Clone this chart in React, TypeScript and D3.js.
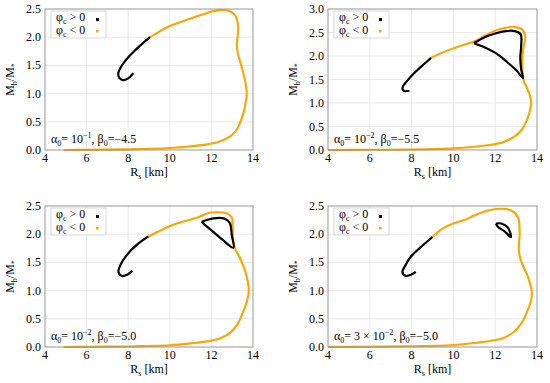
import React from "react";
import * as d3 from "d3";

type P = [number, number];

// Tick values
const xTicks = [4, 6, 8, 10, 12, 14];
const yTicks25 = [0, 0.5, 1.0, 1.5, 2.0, 2.5];
const yTicks30 = [0, 0.5, 1.0, 1.5, 2.0, 2.5, 3.0];

// Panel 1: alpha0 = 1e-1, beta0 = -4.5
const p1Orange: P[] = [[4.9,0.0],[6.0,0.003],[8.0,0.011],[9.0,0.02],[10.0,0.035],[11.0,0.065],[11.8,0.1],[12.4,0.15],[12.9,0.24],[13.2,0.35],[13.45,0.55],[13.62,0.78],[13.7,1.0],[13.62,1.22],[13.45,1.48],[13.28,1.7],[13.22,1.85],[13.27,2.05],[13.28,2.22],[13.15,2.38],[12.9,2.46],[12.4,2.48],[11.8,2.43],[11.0,2.33],[10.0,2.2],[9.5,2.1],[9.05,2.0]];
const p1Black: P[] = [[9.05,2.0],[8.6,1.86],[8.2,1.72],[7.9,1.6],[7.65,1.47],[7.52,1.35],[7.57,1.28],[7.75,1.24],[8.0,1.27],[8.25,1.36]];
const p1Loop: P[] = [];

// Panel 2: alpha0 = 1e-2, beta0 = -5.5
const p2Orange: P[] = [[4,0],[6,0.004],[8,0.012],[9,0.02],[10,0.035],[11,0.07],[11.8,0.11],[12.4,0.17],[12.9,0.28],[13.25,0.42],[13.5,0.62],[13.65,0.82],[13.72,1.0],[13.66,1.16],[13.52,1.32],[13.36,1.47],[13.3,1.7],[13.3,1.95],[13.36,2.2],[13.44,2.4],[13.3,2.56],[12.9,2.62],[12.5,2.6],[12.0,2.54],[11.5,2.43],[11.1,2.33],[10.8,2.28],[10.3,2.21],[9.8,2.13],[9.3,2.04],[8.93,1.96]];
const p2Black: P[] = [[8.93,1.96],[8.6,1.83],[8.3,1.71],[8.0,1.58],[7.75,1.45],[7.58,1.35],[7.58,1.28],[7.7,1.25],[7.9,1.26]];
const p2Loop: P[] = [[10.98,2.27],[11.5,2.4],[12.0,2.48],[12.5,2.53],[12.95,2.53],[13.22,2.46],[13.24,2.2],[13.2,1.95],[13.25,1.7],[13.33,1.53],[13.0,1.7],[12.6,1.86],[12.1,2.04],[11.5,2.18],[10.98,2.27]];

// Panel 3: alpha0 = 1e-2, beta0 = -5.0
const p3Orange: P[] = [[4.9,0],[6,0.003],[8,0.01],[9,0.018],[10,0.032],[11,0.065],[11.8,0.1],[12.4,0.15],[12.9,0.25],[13.25,0.4],[13.5,0.6],[13.7,0.8],[13.8,1.0],[13.66,1.3],[13.4,1.56],[13.12,1.76],[13.04,1.93],[13.02,2.13],[12.97,2.3],[12.73,2.37],[12.25,2.39],[11.9,2.38],[11.3,2.29],[10.8,2.24],[10.33,2.19],[9.85,2.12],[8.97,1.96]];
const p3Black: P[] = [[8.97,1.96],[8.41,1.81],[7.93,1.63],[7.62,1.45],[7.53,1.33],[7.7,1.26],[7.95,1.28],[8.2,1.35]];
const p3Loop: P[] = [[11.53,2.22],[12.09,2.28],[12.6,2.28],[12.88,2.2],[12.98,1.98],[13.06,1.76],[12.57,1.89],[12.09,2.04],[11.7,2.16],[11.53,2.22]];

// Panel 4: alpha0 = 3e-2, beta0 = -5.0
const p4Orange: P[] = [[4,0],[6,0.004],[8,0.012],[9,0.02],[10,0.035],[11,0.07],[11.8,0.11],[12.4,0.16],[12.9,0.27],[13.25,0.42],[13.5,0.6],[13.68,0.78],[13.76,0.95],[13.57,1.24],[13.25,1.51],[13.13,1.71],[13.17,2.01],[13.09,2.3],[12.77,2.42],[12.29,2.45],[11.64,2.42],[11.0,2.33],[10.52,2.25],[9.99,2.19],[9.48,2.1],[9.0,1.95]];
const p4Black: P[] = [[9.0,1.95],[8.44,1.77],[7.96,1.6],[7.66,1.42],[7.56,1.33],[7.72,1.26],[7.96,1.28],[8.2,1.33]];
const p4Loop: P[] = [[12.04,2.19],[12.29,2.19],[12.6,2.12],[12.75,1.95],[12.45,2.05],[12.13,2.13],[12.04,2.19]];

const ORANGE = "#ffa500";
const FONT = "'Liberation Serif', 'Times New Roman', 'DejaVu Serif', serif";

interface PanelProps {
  x0: number; x1: number; y0: number; y1: number;
  ymax: number; yTicks: number[];
  orange: P[]; black: P[]; loop: P[];
  ann: React.ReactNode;
}

function Panel({ x0, x1, y0, y1, ymax, yTicks, orange, black, loop, ann }: PanelProps) {
  const x = d3.scaleLinear().domain([4, 14]).range([x0, x1]);
  const y = d3.scaleLinear().domain([0, ymax]).range([y1, y0]);
  const line = d3.line<P>().x(d => x(d[0])).y(d => y(d[1])).curve(d3.curveCatmullRom.alpha(0.5));
  const cy = (y0 + y1) / 2;
  const cx = (x0 + x1) / 2;
  return (
    <g>
      <defs>
        <clipPath id={`clip${x0}_${y0}`}>
          <rect x={x0} y={y0 - 2} width={x1 - x0} height={y1 - y0 + 4} />
        </clipPath>
      </defs>
      {xTicks.slice(1, -1).map(t => (
        <line key={"gx" + t} x1={x(t)} x2={x(t)} y1={y0} y2={y1} stroke="#e3e3e3" strokeWidth={0.8} />
      ))}
      {yTicks.slice(1, -1).map(t => (
        <line key={"gy" + t} x1={x0} x2={x1} y1={y(t)} y2={y(t)} stroke="#e3e3e3" strokeWidth={0.8} />
      ))}
      <g clipPath={`url(#clip${x0}_${y0})`}>
        <path d={line(orange) || ""} fill="none" stroke={ORANGE} strokeWidth={2.1} />
        <path d={line(black) || ""} fill="none" stroke="#000" strokeWidth={2.2} />
        {loop.length > 0 && <path d={line(loop) || ""} fill="none" stroke="#000" strokeWidth={2.2} />}
      </g>
      <rect x={x0} y={y0} width={x1 - x0} height={y1 - y0} fill="none" stroke="#8c8c8c" strokeWidth={0.9} />
      {xTicks.map(t => (
        <text key={"tx" + t} x={x(t)} y={y1 + 12} fontSize={12} textAnchor="middle" fontFamily={FONT}>{t}</text>
      ))}
      {yTicks.map(t => (
        <text key={"ty" + t} x={x0 - 4} y={y(t) + 4} fontSize={12} textAnchor="end" fontFamily={FONT}>{t.toFixed(1)}</text>
      ))}
      <text x={cx} y={y1 + 26} fontSize={12} textAnchor="middle" fontFamily={FONT}>
        R<tspan fontSize={8} dy={3}>s</tspan><tspan dy={-3}> [km]</tspan>
      </text>
      <text transform={`translate(${x0 - 31},${cy}) rotate(-90)`} fontSize={12} textAnchor="middle" fontFamily={FONT}>
        M<tspan fontSize={8} dy={3}>b</tspan><tspan dy={-3}>/M</tspan><tspan fontSize={8} dy={3}>*</tspan>
      </text>
      <g>
        <rect x={x0 + 6} y={y0 + 2} width={55} height={27} fill="#fff" stroke="#cccccc" strokeWidth={0.8} />
        <text x={x0 + 11} y={y0 + 12} fontSize={12} fontFamily={FONT}>
          φ<tspan fontSize={8} dy={2.5}>c</tspan><tspan dy={-2.5}> &gt; 0</tspan>
        </text>
        <rect x={x0 + 51} y={y0 + 9} width={3} height={3} fill="#000" />
        <text x={x0 + 11} y={y0 + 25} fontSize={12} fontFamily={FONT}>
          φ<tspan fontSize={8} dy={2.5}>c</tspan><tspan dy={-2.5}> &lt; 0</tspan>
        </text>
        <rect x={x0 + 51} y={y0 + 21} width={2.5} height={2.5} fill={ORANGE} />
      </g>
      <text x={x0 + 6} y={y1 - 7} fontSize={12} fontFamily={FONT}>{ann}</text>
    </g>
  );
}

function Ann({ pre, exp, beta }: { pre: string; exp: string; beta: string }) {
  return (
    <>
      α<tspan fontSize={8} dy={3}>0</tspan>
      <tspan dy={-3}>= {pre}10</tspan>
      <tspan fontSize={8} dy={-5}>{exp}</tspan>
      <tspan dy={5}>, β</tspan>
      <tspan fontSize={8} dy={3}>0</tspan>
      <tspan dy={-3}>={beta}</tspan>
    </>
  );
}

export default function App() {
  return (
    <svg width={550} height={383}
      style={{ position: "absolute", left: 0, top: 0, background: "#fff" }}>
      <rect width={550} height={383} fill="#fff" />
      <Panel x0={45} x1={253} y0={9} y1={150} ymax={2.5} yTicks={yTicks25}
        orange={p1Orange} black={p1Black} loop={p1Loop}
        ann={<Ann pre="" exp="−1" beta="−4.5" />} />
      <Panel x0={328} x1={537} y0={9} y1={150} ymax={3.0} yTicks={yTicks30}
        orange={p2Orange} black={p2Black} loop={p2Loop}
        ann={<Ann pre="" exp="−2" beta="−5.5" />} />
      <Panel x0={45} x1={253} y0={206} y1={347} ymax={2.5} yTicks={yTicks25}
        orange={p3Orange} black={p3Black} loop={p3Loop}
        ann={<Ann pre="" exp="−2" beta="−5.0" />} />
      <Panel x0={328} x1={537} y0={206} y1={347} ymax={2.5} yTicks={yTicks25}
        orange={p4Orange} black={p4Black} loop={p4Loop}
        ann={<Ann pre="3 × " exp="−2" beta="−5.0" />} />
    </svg>
  );
}
